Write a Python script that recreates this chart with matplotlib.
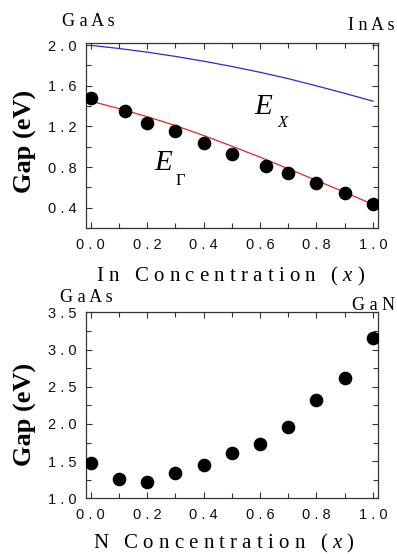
import matplotlib
matplotlib.use('Agg')
import matplotlib.pyplot as plt
from matplotlib.ticker import MultipleLocator, FuncFormatter

# ---- data ----
in_x = [0.0, 0.12, 0.2, 0.3, 0.4, 0.5, 0.62, 0.7, 0.8, 0.9, 1.0]
in_gap = [1.48, 1.35, 1.23, 1.155, 1.04, 0.93, 0.81, 0.745, 0.645, 0.54, 0.435]

curve_x = [0.0, 0.1, 0.2, 0.3, 0.4, 0.5, 0.6, 0.7, 0.8, 0.9, 1.0]
gamma_curve = [1.448, 1.375, 1.295, 1.208, 1.11, 1.005, 0.897, 0.783, 0.668, 0.552, 0.432]
xvalley_curve = [1.997, 1.966, 1.930, 1.888, 1.841, 1.789, 1.732, 1.669, 1.598, 1.525, 1.448]

n_x = [0.0, 0.1, 0.2, 0.3, 0.4, 0.5, 0.6, 0.7, 0.8, 0.9, 1.0]
n_gap = [1.47, 1.26, 1.22, 1.335, 1.445, 1.615, 1.735, 1.965, 2.315, 2.62, 3.16]

W, H = 397, 554
plt.rcParams['mathtext.fontset'] = 'custom'
plt.rcParams['mathtext.it'] = 'Liberation Serif:italic'
plt.rcParams['mathtext.rm'] = 'Liberation Serif'

SERIF = ['Liberation Serif', 'DejaVu Serif']
NARROW = ['Liberation Sans Narrow', 'Liberation Sans', 'DejaVu Sans']

fig = plt.figure(figsize=(W / 100, H / 100), dpi=100)


def fx(px):
    return px / W


def fy(py):
    return 1 - py / H


def spaced(s):
    return ' '.join(s)


tick_fmt = FuncFormatter(lambda v, p: spaced(f'{v:.1f}'))


def style_axes(ax):
    for sp in ax.spines.values():
        sp.set_color('#333333')
        sp.set_linewidth(0.9)
    ax.tick_params(which='both', direction='in', top=True, right=True,
                   color='#333333', width=0.8)
    ax.tick_params(which='major', length=4.5, pad=7, labelsize=10.5)
    ax.tick_params(which='minor', length=3.5)
    ax.xaxis.set_major_formatter(tick_fmt)
    ax.yaxis.set_major_formatter(tick_fmt)
    for lab in ax.get_xticklabels() + ax.get_yticklabels():
        lab.set_family(NARROW)
        lab.set_color('#111111')
    ax.xaxis.set_major_locator(MultipleLocator(0.2))
    ax.xaxis.set_minor_locator(MultipleLocator(0.1))
    ax.set_xlim(-0.017, 1.018)


# ---- top panel ----
ax1 = fig.add_axes([fx(86), fy(228), fx(292), 185 / H])
ax1.plot(curve_x, xvalley_curve, color='#2a2ad6', lw=0.9)
ax1.plot(curve_x, gamma_curve, color='#e02a2a', lw=0.9)
ax1.plot(in_x, in_gap, 'o', color='black', ms=8.8, zorder=3)
ax1.set_ylim(0.2, 2.02)
ax1.yaxis.set_major_locator(MultipleLocator(0.4))
ax1.yaxis.set_minor_locator(MultipleLocator(0.2))
style_axes(ax1)

ax1.text(0.61, 1.39, 'E', family=SERIF, style='italic', fontsize=21,
         ha='center', va='center')
ax1.text(0.68, 1.235, 'X', family=SERIF, style='italic', fontsize=12,
         ha='center', va='center')
ax1.text(0.256, 0.836, 'E', family=SERIF, style='italic', fontsize=21,
         ha='center', va='center')
ax1.text(0.316, 0.665, 'Γ', family=SERIF, fontsize=12,
         ha='center', va='center')

ax1.set_xlabel('I n   C o n c e n t r a t i o n   ( $x$ )', family=SERIF,
               fontsize=15)
ax1.xaxis.set_label_coords(fx(231), fy(276), transform=fig.transFigure)
ax1.xaxis.label.set_va('center')
ax1.set_ylabel('Gap (eV)', family=SERIF, fontweight='bold', fontsize=19)
ax1.yaxis.set_label_coords(fx(25), fy(141), transform=fig.transFigure)
ax1.yaxis.label.set_va('center')

fig.text(fx(62), fy(22), spaced('GaAs'), family=SERIF, fontsize=13,
         ha='left', va='center')
fig.text(fx(395), fy(26), spaced('InAs'), family=SERIF, fontsize=13,
         ha='right', va='center')

# ---- bottom panel ----
ax2 = fig.add_axes([fx(86), fy(498.3), fx(292), 186 / H])
ax2.plot(n_x, n_gap, 'o', color='black', ms=8.8, zorder=3)
ax2.set_ylim(1.0, 3.5)
ax2.yaxis.set_major_locator(MultipleLocator(0.5))
ax2.yaxis.set_minor_locator(MultipleLocator(0.25))
style_axes(ax2)

ax2.set_xlabel('N   C o n c e n t r a t i o n   ( $x$ )', family=SERIF,
               fontsize=15)
ax2.xaxis.set_label_coords(fx(224), fy(543), transform=fig.transFigure)
ax2.xaxis.label.set_va('center')
ax2.set_ylabel('Gap (eV)', family=SERIF, fontweight='bold', fontsize=19)
ax2.yaxis.set_label_coords(fx(25), fy(414), transform=fig.transFigure)
ax2.yaxis.label.set_va('center')

fig.text(fx(60), fy(297), spaced('GaAs'), family=SERIF, fontsize=13,
         ha='left', va='center')
fig.text(fx(395), fy(305), spaced('GaN'), family=SERIF, fontsize=13,
         ha='right', va='center')

fig.savefig('out.png', dpi=100)
